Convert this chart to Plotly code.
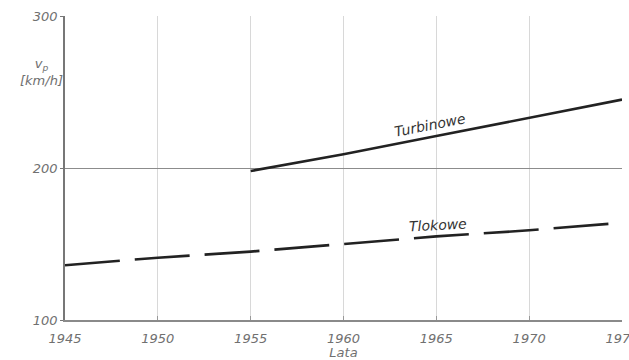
import plotly.graph_objects as go

years_turb = [1955, 1960, 1965, 1970, 1975]
speed_turb = [198, 209, 221, 233, 245]

years_tlok = [1945, 1950, 1955, 1960, 1965, 1970, 1975]
speed_tlok = [136, 141, 145, 150, 155, 159, 164]

x_ticks = [1945, 1950, 1955, 1960, 1965, 1970, 1975]
y_ticks = [100, 200, 300]

label_font = dict(family="DejaVu Sans", size=13, color="#707070", style="italic")
curve_font = dict(family="DejaVu Sans", size=14, color="#333333", style="italic")

fig = go.Figure()
fig.add_trace(go.Scatter(x=years_turb, y=speed_turb, mode="lines",
                         line=dict(color="#222222", width=2.6), showlegend=False))
fig.add_trace(go.Scatter(x=years_tlok, y=speed_tlok, mode="lines",
                         line=dict(color="#222222", width=2.6, dash="55px,15px"),
                         showlegend=False))

fig.add_annotation(x=1964.65, y=228, text="Turbinowe", showarrow=False,
                   textangle=-11, font=curve_font)
fig.add_annotation(x=1965.1, y=162.5, text="Tlokowe", showarrow=False,
                   textangle=-3, font=curve_font)

fig.add_annotation(xref="paper", yref="paper", x=-0.042, y=0.815, xanchor="center",
                   yanchor="middle", text="v<sub>p</sub><br>[km/h]", showarrow=False,
                   align="center",
                   font=dict(family="DejaVu Sans", size=13, color="#707070", style="italic"))

fig.update_xaxes(range=[1945, 1975], tickvals=x_ticks, ticktext=[str(v) for v in x_ticks],
                 showgrid=True, gridcolor="#d8d8d8", gridwidth=1,
                 showline=True, linecolor="#8a8a8a", linewidth=1.5, mirror=False,
                 ticks="inside", ticklen=4, tickcolor="#999999",
                 tickfont=label_font, zeroline=False, ticklabelstandoff=6,
                 ticklabeloverflow="allow", automargin=False,
                 title=dict(text="Lata", font=label_font, standoff=2))
fig.update_yaxes(range=[100, 300], tickvals=y_ticks, ticktext=[str(v) for v in y_ticks],
                 showgrid=True, gridcolor="#8c8c8c", gridwidth=1.3,
                 showline=True, linecolor="#777777", linewidth=1.6, mirror=False,
                 ticks="outside", ticklen=3, tickcolor="#777777",
                 tickfont=label_font, zeroline=False, automargin=False)

fig.update_layout(width=629, height=360, margin=dict(l=65, r=7, t=16, b=40),
                  plot_bgcolor="white", paper_bgcolor="white")

fig.write_html("out.html")
